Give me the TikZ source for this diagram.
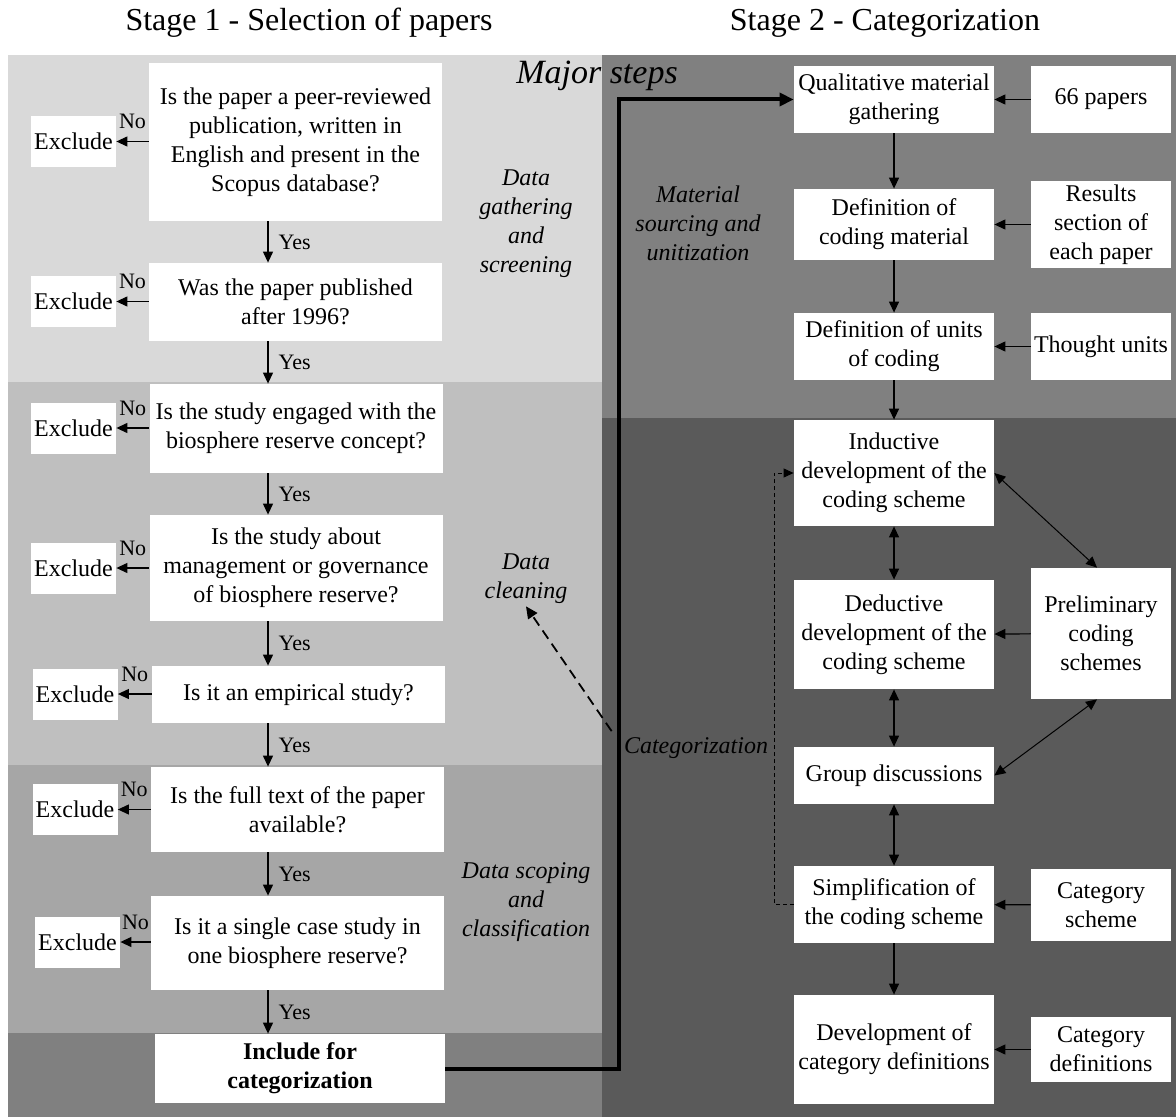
\documentclass[tikz,border=0pt]{standalone}
\usepackage{fontspec}
\setmainfont{Liberation Serif}
\usepackage{tikz}
\usetikzlibrary{
  arrows.meta,
  positioning,
  calc
}
\definecolor{screenband}{RGB}{217,217,217}
\definecolor{cleanband}{RGB}{191,191,191}
\definecolor{scopeband}{RGB}{166,166,166}
\definecolor{includeband}{RGB}{128,128,128}
\definecolor{sourceband}{RGB}{128,128,128}
\definecolor{codingband}{RGB}{90,90,90}
\newcommand{\boxfont}{\fontsize{12}{14.5}\selectfont}
\tikzset{
  wbox/.style={
    fill=white,
    align=center,
    inner sep=1pt,
    font=\boxfont
  },
  qbox/.style={wbox,minimum width=146.5pt},
  exbox/.style={wbox,minimum width=42.5pt,minimum height=25.5pt},
  stepbox/.style={wbox,minimum width=100pt},
  srcbox/.style={wbox,minimum width=70pt},
  phase/.style={align=center,inner sep=1pt,font=\boxfont\itshape},
  answer/.style={font=\fontsize{11}{13}\selectfont,inner sep=1pt},
  flowarrow/.style={-{Triangle[length=5.5pt,width=5pt]},line width=0.6pt},
  twoway/.style={{Triangle[length=5.5pt,width=5pt]}-{Triangle[length=5.5pt,width=5pt]},line width=0.6pt},
  mainline/.style={-{Triangle[length=7pt,width=6.5pt]},line width=2pt},
  cleanarrow/.style={-{Triangle[length=6pt,width=5.5pt]},line width=0.9pt,dash pattern=on 5pt off 3pt},
  loopline/.style={-{Triangle[length=5pt,width=4.5pt]},line width=0.5pt,dash pattern=on 2pt off 1.5pt},
}

\begin{document}
\begin{tikzpicture}[x=0.5pt,y=-0.5pt]
  \useasboundingbox (0,0) rectangle (1176,1117);
  % Background bands
  \fill[screenband] (8,55) rectangle (602,382);
  \fill[cleanband] (8,382) rectangle (602,765);
  \fill[scopeband] (8,765) rectangle (602,1033);
  \fill[includeband] (8,1033) rectangle (602,1117);
  \fill[sourceband] (602,55) rectangle (1176,418);
  \fill[codingband] (602,418) rectangle (1176,1117);

  % Titles
  \node[font=\fontsize{16}{19}\selectfont] (title1) at (309,23) {Stage 1 - Selection of papers};
  \node[font=\fontsize{16}{19}\selectfont] (title2) at (885,23) {Stage 2 - Categorization};
  \node[font=\fontsize{17}{20}\selectfont\itshape] (major) at (597,76) {Major steps};

  % Stage 1: screening questions
  \coordinate (yx) at (268,0);
  \node[qbox,minimum height=79pt] (q1) at (295.5,142) {Is the paper a peer-reviewed\\publication, written in\\English and present in the\\Scopus database?};
  \node[qbox,minimum height=39pt] (q2) at (295.5,302) {Was the paper published\\after 1996?};
  \node[qbox,minimum height=44.5pt] (q3) at (296,428.5) {Is the study engaged with the\\biosphere reserve concept?};
  \node[qbox,minimum height=53pt] (q4) at (296,568) {Is the study about\\management or governance\\of biosphere reserve?};
  \node[qbox,minimum height=28.5pt] (q5) at (298.5,694.5) {Is it an empirical study?};
  \node[qbox,minimum height=42.5pt] (q6) at (297.5,809.5) {Is the full text of the paper\\available?};
  \node[qbox,minimum height=47pt] (q7) at (297.5,943) {Is it a single case study in\\one biosphere reserve?};
  \node[qbox,minimum height=34.5pt,minimum width=145pt,font=\boxfont\bfseries] (inc) at (300,1068.5) {Include for\\categorization};

  \node[exbox] (e1) at (73.5,141.5) {Exclude};
  \node[exbox] (e2) at (73.5,301.5) {Exclude};
  \node[exbox] (e3) at (73.5,428) {Exclude};
  \node[exbox] (e4) at (73.5,568) {Exclude};
  \node[exbox] (e5) at (75,694) {Exclude};
  \node[exbox] (e6) at (75,809.5) {Exclude};
  \node[exbox] (e7) at (77.5,942) {Exclude};

  \foreach \q in {1,...,7}{
    \draw[flowarrow] (q\q.west |- e\q.east) -- node[answer,above=5pt]{No} (e\q.east);
  }
  \foreach \a/\b in {q1/q2,q2/q3,q3/q4,q4/q5,q5/q6,q6/q7,q7/inc}{
    \draw[flowarrow] (\a.south -| yx) -- node[answer,right=4pt]{Yes} (\b.north -| yx);
  }

  % Stage 1 phases
  \node[phase] (gather) at (526,224) {Data\\gathering\\and\\screening};
  \node[phase] (clean) at (526,579) {Data\\cleaning};
  \node[phase] (scope) at (526,902) {Data scoping\\and\\classification};

  % Stage 2: coding steps
  \node[stepbox,minimum height=33.5pt] (r1) at (894,99.5) {Qualitative material\\gathering};
  \node[stepbox,minimum height=35.5pt] (r2) at (894,224.5) {Definition of\\coding material};
  \node[stepbox,minimum height=33.5pt] (r3) at (894,346.5) {Definition of units\\of coding};
  \node[stepbox,minimum height=53pt] (r4) at (894,473) {Inductive\\development of the\\coding scheme};
  \node[stepbox,minimum height=54.5pt] (r5) at (894,634.5) {Deductive\\development of the\\coding scheme};
  \node[stepbox,minimum height=28.5pt] (r6) at (894,775.5) {Group discussions};
  \node[stepbox,minimum height=38.5pt] (r7) at (894,904.5) {Simplification of\\the coding scheme};
  \node[stepbox,minimum height=54.5pt] (r8) at (894,1049.5) {Development of\\category definitions};

  \node[srcbox,minimum height=33.5pt] (s1) at (1101,99.5) {66 papers};
  \node[srcbox,minimum height=43.5pt] (s2) at (1101,224.5) {Results\\section of\\each paper};
  \node[srcbox,minimum height=33.5pt] (s3) at (1101,346.5) {Thought units};
  \node[srcbox,minimum height=65.5pt] (s4) at (1101,633.5) {Preliminary\\coding\\schemes};
  \node[srcbox,minimum height=36pt] (s5) at (1101,905) {Category\\scheme};
  \node[srcbox,minimum height=32.5pt] (s6) at (1101,1049.5) {Category\\definitions};

  \draw[flowarrow] (r1) -- (r2);
  \draw[flowarrow] (r2) -- (r3);
  \draw[flowarrow] (r3) -- (r4);
  \draw[twoway] (r4) -- (r5);
  \draw[twoway] (r5) -- (r6);
  \draw[twoway] (r6) -- (r7);
  \draw[flowarrow] (r7) -- (r8);

  \draw[flowarrow] (s1) -- (r1);
  \draw[flowarrow] (s2) -- (r2);
  \draw[flowarrow] (s3) -- (r3);
  \draw[flowarrow] (s4) -- (r5);
  \draw[flowarrow] (s5) -- (r7);
  \draw[flowarrow] (s6) -- (r8);
  \draw[twoway,line width=0.5pt] (r4.east) -- ([xshift=-2pt]s4.north);
  \draw[twoway,line width=0.5pt] (r6.east) -- ([xshift=-2pt]s4.south);

  % Feedback loop
  \coordinate (fb) at (774,0);
  \draw[loopline] (r7.west) -- (r7.west -| fb) |- (r4.west);

  % Stage 2 phases
  \node[phase] (source) at (698,223) {Material\\sourcing and\\unitization};
  \node[phase] (catlab) at (696,748) {Categorization};
  \draw[cleanarrow] ([xshift=-5pt,yshift=2pt]catlab.north west) -- (clean.south);

  % Link between stages
  \coordinate (bend) at (619,0);
  \draw[mainline] (inc.east) -- (inc.east -| bend) |- (r1.west);
\end{tikzpicture}
\end{document}
